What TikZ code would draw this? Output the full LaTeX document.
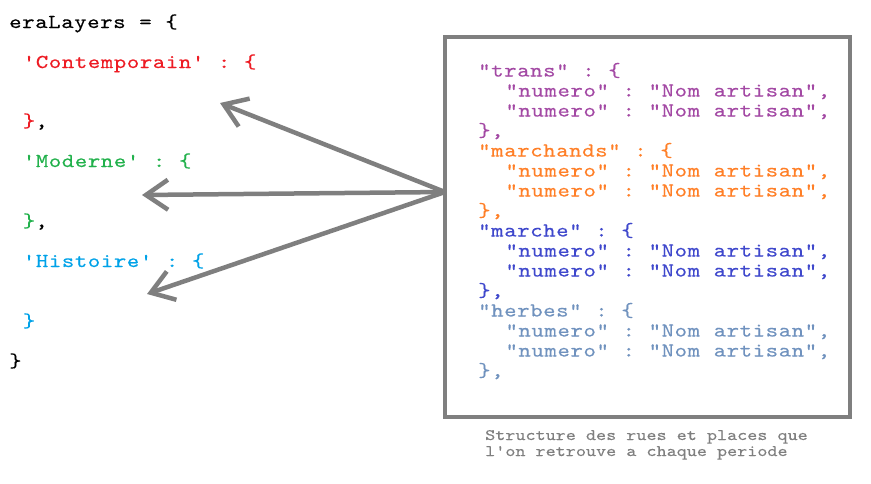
\documentclass[tikz,border=0pt]{standalone}
\usepackage{fontspec}
\setmonofont{lmmono10-regular.otf}[FakeStretch=1.2,FakeBold=0.4,LetterSpace=3,WordSpace=1.05]
\newfontfamily\capfont{lmmono10-regular.otf}[FakeStretch=1.2,FakeBold=0.3]
\usetikzlibrary{arrows.meta}
\definecolor{eraRed}{RGB}{237,28,36}
\definecolor{eraGreen}{RGB}{34,177,76}
\definecolor{eraCyan}{RGB}{0,162,232}
\definecolor{rueTrans}{RGB}{163,73,164}
\definecolor{rueMarch}{RGB}{255,127,39}
\definecolor{rueMarche}{RGB}{63,72,204}
\definecolor{rueHerbes}{RGB}{112,146,190}
\definecolor{paintGray}{RGB}{127,127,127}

\begin{document}
\begin{tikzpicture}[x=1pt,y=-1pt,>={Straight Barb[length=22pt,width=30pt]},
  every node/.style={anchor=base west,inner sep=0pt,font=\ttfamily\fontsize{19.7}{20}\selectfont}]
\useasboundingbox (0,0) rectangle (871,483);
\path
(9,28)    node (era) {eraLayers = \{}
+(0,40)   node[text=eraRed] (c1) {\ 'Contemporain' : \{}
+(0,99)   node (c2) {\ \textcolor{eraRed}{\}},}
+(0,139)  node[text=eraGreen] (m1) {\ 'Moderne' : \{}
+(0,199)  node (m2) {\ \textcolor{eraGreen}{\}},}
+(0,239)  node[text=eraCyan] (h1) {\ 'Histoire' : \{}
+(0,299)  node[text=eraCyan] (h2) {\ \}}
+(0,339)  node (eraend) {\}};

% bloc des rues
\draw[paintGray,line width=4.5pt] (445,37) rectangle (850,417);
\path
(478,76.5) node[text=rueTrans] (r1) {"trans" : \{}
+(0,20)    node[text=rueTrans] {\ \ "numero" : "Nom artisan",}
+(0,40)    node[text=rueTrans] {\ \ "numero" : "Nom artisan",}
+(0,60)    node[text=rueTrans] {\},}
+(0,80)    node[text=rueMarch] (r2) {"marchands" : \{}
+(0,100)   node[text=rueMarch] {\ \ "numero" : "Nom artisan",}
+(0,120)   node[text=rueMarch] {\ \ "numero" : "Nom artisan",}
+(0,140)   node[text=rueMarch] {\},}
+(0,160)   node[text=rueMarche] (r3) {"marche" : \{}
+(0,180)   node[text=rueMarche] {\ \ "numero" : "Nom artisan",}
+(0,200)   node[text=rueMarche] {\ \ "numero" : "Nom artisan",}
+(0,220)   node[text=rueMarche] {\},}
+(0,240)   node[text=rueHerbes] (r4) {"herbes" : \{}
+(0,260)   node[text=rueHerbes] {\ \ "numero" : "Nom artisan",}
+(0,280)   node[text=rueHerbes] {\ \ "numero" : "Nom artisan",}
+(0,300)   node[text=rueHerbes] {\},};

\path
(485,440) node[text=paintGray,font=\capfont\fontsize{16}{16}\selectfont] (cap1) {Structure des rues et places que}
+(0,16)   node[text=paintGray,font=\capfont\fontsize{16}{16}\selectfont] (cap2) {l'on retrouve a chaque periode};

\coordinate (src) at (445,192);
\coordinate (t1) at (220,103);
\coordinate (t2) at (142,195);
\coordinate (t3) at (147,294);
\draw[->,paintGray,line width=4.5pt] (src)--(t1);
\draw[->,paintGray,line width=4.5pt] (src)--(t2);
\draw[->,paintGray,line width=4.5pt] (src)--(t3);
\end{tikzpicture}
\end{document}
